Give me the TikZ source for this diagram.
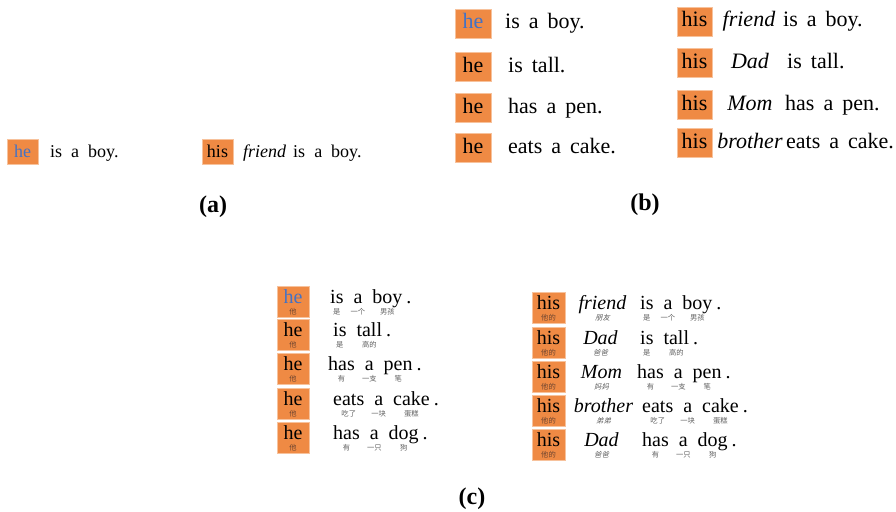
\documentclass[tikz,border=0pt]{standalone}
\usepackage{fontspec}
\setmainfont{Liberation Serif}
\newfontfamily\cnfont{Noto Sans CJK SC}
\newfontfamily\cnitfont[FakeSlant=0.25]{Noto Sans CJK SC}
\definecolor{boxor}{HTML}{EF8A44}
\definecolor{boxedge}{HTML}{F7C29C}
\definecolor{heblue}{HTML}{4472C4}
\definecolor{cngray}{HTML}{606060}
\definecolor{cnbox}{HTML}{6E4530}
% word with a Chinese gloss centred beneath it
\newcommand{\glossw}[4]{\setbox0=\hbox{#1}\vtop{\baselineskip=10.5pt\lineskiplimit=-100pt\lineskip=0pt\copy0\hbox to \wd0{\hss{\fontsize{7.3}{8}#3\color{#4}#2}\hss}}}
\newcommand{\cw}[2]{\glossw{#1}{#2}{\cnfont}{cngray}}
\newcommand{\cwi}[2]{\glossw{\textit{#1}}{#2}{\cnitfont}{cngray}}
\newcommand{\cwb}[2]{\glossw{#1}{#2}{\cnfont}{cnbox}}
\newcommand{\pd}{\hspace{4pt}.}
\tikzset{
  pbox/.style={fill=boxor, draw=boxedge, line width=0.6pt, inner sep=0pt, anchor=base},
  fa/.style={font={\fontsize{18}{20}\selectfont\spaceskip=9pt\relax}},
  fb/.style={font={\fontsize{22}{24}\selectfont\spaceskip=9pt\relax}},
  fc/.style={font={\fontsize{20}{22}\selectfont\spaceskip=10pt\relax}},
  sent/.style={anchor=base west, inner sep=0pt},
  itw/.style={anchor=base, inner sep=0pt},
  boxa/.style={pbox, fa, minimum width=31pt, text height=18pt, text depth=7pt},
  boxb/.style={pbox, fb, text height=20pt, text depth=9pt},
  boxc/.style={pbox, fc, text height=17.5pt, text depth=13.5pt},
  lab/.style={font={\fontsize{24}{26}\selectfont\bfseries}, inner sep=0pt}
}
\begin{document}
\begin{tikzpicture}[x=1pt,y=-1pt]
\useasboundingbox (0,0) rectangle (896,511);
% ---------- (a)
\node[boxa] (ah) at (22.5,157) {\textcolor{heblue}{he}};
\node[sent, fa] (ahs) at (50,157) {is a boy.};
\node[boxa] (ai) at (217.5,157) {his};
\node[sent, fa] (ais) at (243,157) {\textit{friend}\hspace{-2pt} is a boy.};
\node[lab] (la) at (213,207) {(a)};
% ---------- (b) left
\node[boxb, minimum width=36pt] (b1) at (473,29) {\textcolor{heblue}{he}};
\node[boxb, minimum width=36pt] (b2) at (473,72) {he};
\node[boxb, minimum width=36pt] (b3) at (473,113) {he};
\node[boxb, minimum width=36pt] (b4) at (473,153) {he};
\node[sent, fb] (b1s) at (505,29) {is a boy.};
\node[sent, fb] (b2s) at (508,72) {is tall.};
\node[sent, fb] (b3s) at (508,113) {has a pen.};
\node[sent, fb] (b4s) at (508,153) {eats a cake.};
% ---------- (b) right
\node[boxb, minimum width=35pt] (d1) at (694.5,27) {his};
\node[boxb, minimum width=35pt] (d2) at (694.5,68) {his};
\node[boxb, minimum width=35pt] (d3) at (694.5,110) {his};
\node[boxb, minimum width=35pt] (d4) at (694.5,148) {his};
\node[itw, fb] (d1w) at (749,27) {\textit{friend}};
\node[itw, fb] (d2w) at (750,68) {\textit{Dad}};
\node[itw, fb] (d3w) at (750,110) {\textit{Mom}};
\node[itw, fb] (d4w) at (750,148) {\textit{brother}};
\node[sent, fb] (d1s) at (783,27) {is a boy.};
\node[sent, fb] (d2s) at (787,68) {is tall.};
\node[sent, fb] (d3s) at (785,110) {has a pen.};
\node[sent, fb] (d4s) at (786,148) {eats a cake.};
\node[lab] (lb) at (645,205) {(b)};
% ---------- (c) left
\node[boxc, minimum width=32pt] (c1) at (293,303.5) {\cwb{\textcolor{heblue}{he}}{他}};
\node[boxc, minimum width=32pt] (c2) at (293,336.5) {\cwb{he}{他}};
\node[boxc, minimum width=32pt] (c3) at (293,370.5) {\cwb{he}{他}};
\node[boxc, minimum width=32pt] (c4) at (293,405.5) {\cwb{he}{他}};
\node[boxc, minimum width=32pt] (c5) at (293,439.5) {\cwb{he}{他}};
\node[sent, fc] (c1s) at (330,303.5) {\cw{is}{是} \cw{a}{一个} \cw{boy}{男孩}\pd};
\node[sent, fc] (c2s) at (333,336.5) {\cw{is}{是} \cw{tall}{高的}\pd};
\node[sent, fc] (c3s) at (328,370.5) {\cw{has}{有} \cw{a}{一支} \cw{pen}{笔}\pd};
\node[sent, fc] (c4s) at (333,405.5) {\cw{eats}{吃了} \cw{a}{一块} \cw{cake}{蛋糕}\pd};
\node[sent, fc] (c5s) at (333,439.5) {\cw{has}{有} \cw{a}{一只} \cw{dog}{狗}\pd};
% ---------- (c) right
\node[boxc, minimum width=33pt] (e1) at (548.5,309.5) {\cwb{his}{他的}};
\node[boxc, minimum width=33pt] (e2) at (548.5,344.5) {\cwb{his}{他的}};
\node[boxc, minimum width=33pt] (e3) at (548.5,378.5) {\cwb{his}{他的}};
\node[boxc, minimum width=33pt] (e4) at (548.5,412.5) {\cwb{his}{他的}};
\node[boxc, minimum width=33pt] (e5) at (548.5,446.5) {\cwb{his}{他的}};
\node[itw, fc] (e1w) at (602.5,309.5) {\cwi{friend}{朋友}};
\node[itw, fc] (e2w) at (600.5,344.5) {\cwi{Dad}{爸爸}};
\node[itw, fc] (e3w) at (601.5,378.5) {\cwi{Mom}{妈妈}};
\node[itw, fc] (e4w) at (603.5,412.5) {\cwi{brother}{弟弟}};
\node[itw, fc] (e5w) at (601.5,446.5) {\cwi{Dad}{爸爸}};
\node[sent, fc] (e1s) at (640,309.5) {\cw{is}{是} \cw{a}{一个} \cw{boy}{男孩}\pd};
\node[sent, fc] (e2s) at (640,344.5) {\cw{is}{是} \cw{tall}{高的}\pd};
\node[sent, fc] (e3s) at (637,378.5) {\cw{has}{有} \cw{a}{一支} \cw{pen}{笔}\pd};
\node[sent, fc] (e4s) at (642,412.5) {\cw{eats}{吃了} \cw{a}{一块} \cw{cake}{蛋糕}\pd};
\node[sent, fc] (e5s) at (642,446.5) {\cw{has}{有} \cw{a}{一只} \cw{dog}{狗}\pd};
\node[lab] (lc) at (472,499) {(c)};
\end{tikzpicture}
\end{document}
